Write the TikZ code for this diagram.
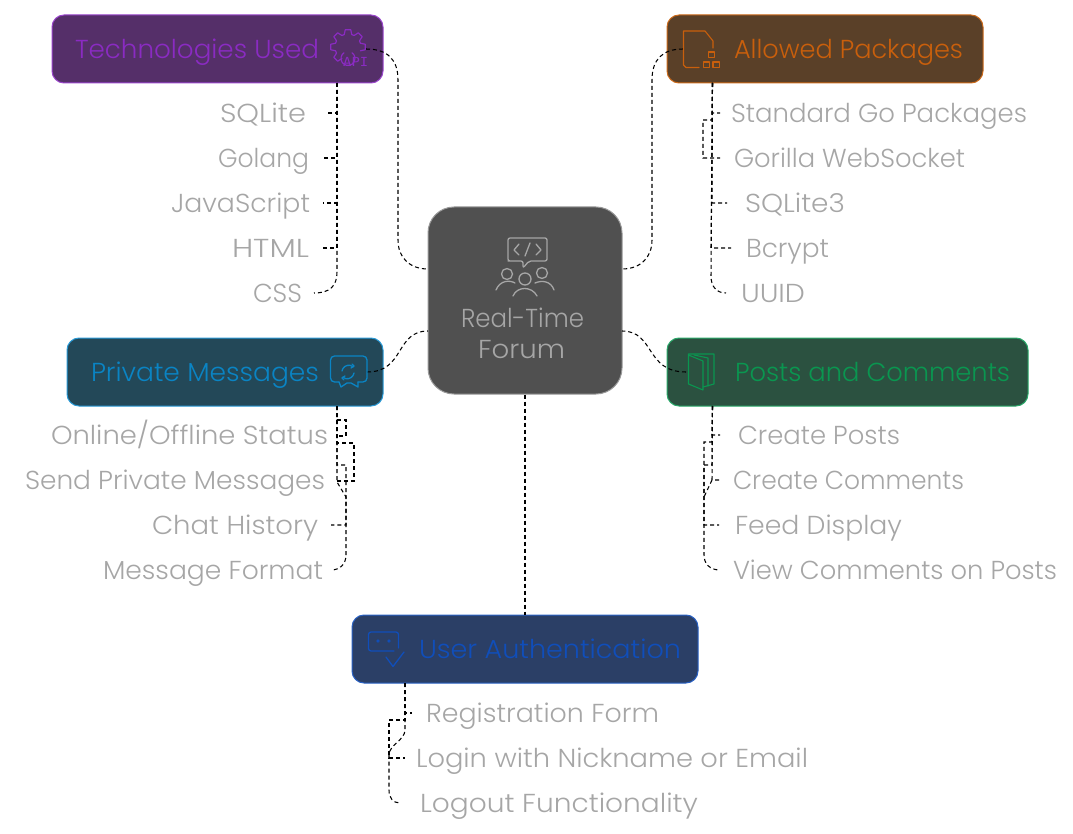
\documentclass[tikz,border=0pt]{standalone}
\usepackage{fontspec}
\setmainfont{Poppins Light}
\newfontfamily\apifont{DejaVu Sans Mono}
\definecolor{lab}{HTML}{A6A6A6}
\definecolor{purF}{HTML}{552F69}\definecolor{purT}{HTML}{8A2BC2}\definecolor{purL}{HTML}{9A45CC}
\definecolor{ornF}{HTML}{5A4028}\definecolor{ornT}{HTML}{C95F0C}\definecolor{ornL}{HTML}{CC6A1A}
\definecolor{bluF}{HTML}{234858}\definecolor{bluT}{HTML}{0A84C4}\definecolor{bluL}{HTML}{2A9AD6}
\definecolor{grnF}{HTML}{2B5140}\definecolor{grnT}{HTML}{0A9650}\definecolor{grnL}{HTML}{2AA96A}
\definecolor{navF}{HTML}{2B3F66}\definecolor{navT}{HTML}{104EBA}\definecolor{navL}{HTML}{2A62C4}
\definecolor{cenF}{HTML}{505050}
\newcommand{\fit}[2]{\resizebox{#1pt}{\height}{#2}}
\tikzset{
 x=1pt,y=-1pt,
 txt/.style={inner sep=0pt,outer sep=0pt,anchor=base west,font=\fontsize{26}{26}\selectfont},
 sub/.style={txt,text=lab},
 mbox/.style={rounded corners=12pt,line width=1pt,inner sep=0pt},
 link/.style={draw=black,line width=1.05pt,dash pattern=on 4pt off 3pt},
 ico/.style={line width=1.3pt,line join=round,line cap=round},
}
\begin{document}
\begin{tikzpicture}
\useasboundingbox (0,0) rectangle (1073,834);
% boxes
\node[mbox,rounded corners=26pt,fill=cenF,draw=gray!80,minimum width=194pt,minimum height=187pt] (cen) at (525,300.5) {};
\node[mbox,fill=purF,draw=purL,minimum width=331pt,minimum height=68pt] (tech) at (217.5,49) {};
\node[mbox,fill=ornF,draw=ornL,minimum width=316pt,minimum height=68pt] (pack) at (825,49) {};
\node[mbox,fill=bluF,draw=bluL,minimum width=316pt,minimum height=68pt] (priv) at (225,372) {};
\node[mbox,fill=grnF,draw=grnL,minimum width=361pt,minimum height=68pt] (post) at (847.5,372) {};
\node[mbox,fill=navF,draw=navL,minimum width=346pt,minimum height=68pt] (auth) at (525,649) {};
% titles
\node[txt,text=purT] (ttech) at (75,58.5) {\fit{244}{Technologies Used}};
\node[txt,text=ornT] (tpack) at (734,58.5) {\fit{229}{Allowed Packages}};
\node[txt,text=bluT] (tpriv) at (91,381.5) {\fit{228}{Private Messages}};
\node[txt,text=grnT] (tpost) at (735,381.5) {\fit{275}{Posts and Comments}};
\node[txt,text=navT] (tauth) at (419,658.5) {\fit{262}{User Authentication}};
\node[sub] (rt) at (461,327.5) {\fit{123}{Real-Time}};
\node[sub] (fo) at (478,358) {\fit{87}{Forum}};
% sub labels
\node[sub] (a1) at (220,122.5) {\fit{86}{SQLite}};
\node[sub] (a2) at (218,167.5) {\fit{91}{Golang}};
\node[sub] (a3) at (171,212.5) {\fit{139}{JavaScript}};
\node[sub] (a4) at (232,257.5) {\fit{77}{HTML}};
\node[sub] (a5) at (253,302) {\fit{49}{CSS}};
\node[sub] (b1) at (731,122.5) {\fit{296}{Standard Go Packages}};
\node[sub] (b2) at (734,167.5) {\fit{231}{Gorilla WebSocket}};
\node[sub] (b3) at (745,212.5) {\fit{100}{SQLite3}};
\node[sub] (b4) at (746,257.5) {\fit{83}{Bcrypt}};
\node[sub] (b5) at (741,302) {\fit{64}{UUID}};
\node[sub] (c1) at (51,444) {\fit{277}{Online/Offline Status}};
\node[sub] (c2) at (25,489) {\fit{300}{Send Private Messages}};
\node[sub] (c3) at (152,534) {\fit{166}{Chat History}};
\node[sub] (c4) at (103,579) {\fit{220}{Message Format}};
\node[sub] (d1) at (738,444) {\fit{162}{Create Posts}};
\node[sub] (d2) at (733,489) {\fit{231}{Create Comments}};
\node[sub] (d3) at (735,534) {\fit{167}{Feed Display}};
\node[sub] (d4) at (733,579) {\fit{324}{View Comments on Posts}};
\node[sub] (e1) at (426,722) {\fit{233}{Registration Form}};
\node[sub] (e2) at (416,767) {\fit{392}{Login with Nickname or Email}};
\node[sub] (e3) at (420,812) {\fit{278}{Logout Functionality}};
% ports
\coordinate (techI) at (366,49);\coordinate (packI) at (683,49);
\coordinate (privI) at (367,372);\coordinate (postI) at (686,372);
\coordinate (cenTL) at (428,269);\coordinate (cenTR) at (622,269);
\coordinate (cenBL) at (428,331);\coordinate (cenBR) at (622,331);
\coordinate (techS) at (337,83);\coordinate (packS) at (712.5,83);
\coordinate (privS) at (337,406);\coordinate (postS) at (712.5,406);
\coordinate (authS) at (405,683);
% main links
\draw[link] (techI) .. controls (388,49) and (398,60) .. (398,80) -- (398,240) .. controls (398,258) and (410,269) .. (cenTL);
\draw[link] (packI) .. controls (662,49) and (652,60) .. (652,80) -- (652,240) .. controls (652,258) and (640,269) .. (cenTR);
\draw[link] (privI) .. controls (405,372) and (395,331) .. (cenBL);
\draw[link] (postI) .. controls (645,372) and (655,331) .. (cenBR);
\draw[link] (cen.south) -- (auth.north);
% Technologies
\draw[link] (techS) -- (337,113) -- (326,113);
\draw[link] (techS) -- (337,158) -- (323,158);
\draw[link] (techS) -- (337,203) -- (323,203);
\draw[link] (techS) -- (337,248) -- (323,248);
\draw[link] (techS) -- (337,272) .. controls (337,286) and (330,293) .. (314,293);
% Allowed
\draw[link] (packS) -- (712,113) -- (720,113);
\draw[link] (packS) -- (712,120) -- (703,120) -- (703,158) -- (720,158);
\draw[link] (packS) -- (712,203) -- (727,203);
\draw[link] (packS) -- (711,248) -- (731,248);
\draw[link] (packS) -- (711,276) .. controls (711,286) and (716,293) .. (726,293);
% Private
\draw[link] (privS) -- (337,420) -- (346,420) -- (346,436) -- (337,436);
\draw[link] (privS) -- (337,443) -- (354,443) -- (354,481) -- (336,481);
\draw[link] (privS) -- (337,482) -- (346,497) -- (346,525) -- (331,525);
\draw[link] (privS) -- (337,465) -- (346,465) -- (346,555) .. controls (346,564) and (340,570) .. (331,570);
% Posts
\draw[link] (postS) -- (712,435) -- (720,435);
\draw[link] (postS) -- (712,480) -- (720,480);
\draw[link] (postS) -- (712,465) -- (704,465) -- (704,525) -- (719,525);
\draw[link] (postS) -- (712,442) -- (704,442) -- (704,555) .. controls (704,564) and (710,570) .. (720,570);
\draw[link] (712,480) -- (704,497);
% Auth
\draw[link] (authS) -- (405,713) -- (412,713);
\draw[link] (authS) -- (405,720) -- (389,720) -- (389,758) -- (405,758);
\draw[link] (authS) -- (405,730) .. controls (405,740) and (389,745) .. (389,755) -- (389,790) .. controls (389,798) and (393,803) .. (400,803);
% central icon
\begin{scope}[ico,draw=lab]
\draw[rounded corners=2pt] (523,261) -- (510,261) -- (508,261) -- (508,238) -- (547,238) -- (547,261) -- (529,261) -- (523,268) -- cycle;
\draw (519,244) -- (514,250) -- (519,255);
\draw (536,244) -- (541,250) -- (536,255);
\draw (530,243) -- (525,256);
\draw (507,274) circle (5.5pt);\draw (525,279) circle (6pt);\draw (542,273) circle (5.5pt);
\draw (496,290) .. controls (500,280) and (510,280) .. (515,283);
\draw (513,296) .. controls (517,286) and (532,286) .. (537,296);
\draw (535,283) .. controls (542,280) and (551,281) .. (554,290);
\end{scope}
% gear icon
\begin{scope}[ico,draw=purT,line width=1.2pt,shift={(348,47)}]
\foreach \a in {0,-45,-90,-135,180,135}{
 \draw (\a-17:13) -- (\a-9:17.5) -- (\a+9:17.5) -- (\a+17:13);
}
\foreach \a in {-45,-90,-135,180,135}{
 \draw (\a+17:13) -- (\a+28:13);
}
\draw (125:7) arc[start angle=125,end angle=415,radius=7pt];
\end{scope}
\node[anchor=base west,inner sep=0pt,text=purT,font=\apifont\fontsize{12.5}{12.5}\selectfont] (api) at (343,67) {\fit{25}{API}};
% file icon
\begin{scope}[ico,draw=ornT,line width=1.1pt]
\draw (699,67.5) -- (686,67.5) -- (683.5,65) -- (683.5,31) -- (705,31) -- (713,41) -- (713,48);
\draw (708.5,52) rectangle (714.5,57.5);
\draw (703.5,62) rectangle (709.5,67.5);
\draw (713,62) rectangle (719.5,67.5);
\end{scope}
% chat icon
\begin{scope}[ico,draw=bluT]
\draw[rounded corners=4pt] (339,382) -- (330.5,382) -- (330.5,356) -- (367,356) -- (367,382) -- (358,382);
\draw (339,382) -- (341,387) -- (347,383) -- (351,383) -- (358,387) -- (358,382);
\draw (342,371) arc[start angle=170,end angle=50,radius=7pt];
\draw (354,373) arc[start angle=-10,end angle=-130,radius=7pt];
\draw (352,364) -- (354,366) -- (351,368);
\draw (344,380) -- (342,378) -- (345,376);
\end{scope}
% book icon
\begin{scope}[ico,draw=grnT,line width=1.1pt]
\draw (688.5,355) -- (703,361) -- (703,390) -- (688.5,384) -- cycle;
\draw (688.5,355) -- (688.5,354) -- (714,354) -- (714,384) -- (703,387);
\draw (694,355) -- (708,358) -- (708,386);
\end{scope}
% user icon
\begin{scope}[ico,draw=navT]
\draw[rounded corners=2.5pt] (394,651) -- (368.5,651) -- (368.5,632) -- (398.5,632) -- (398.5,648);
\draw[line width=1pt] (378,641) circle (1.2pt) (389,641) circle (1.2pt);
\draw (386,657) -- (393,666.5) -- (404,652);
\end{scope}
\end{tikzpicture}
\end{document}
